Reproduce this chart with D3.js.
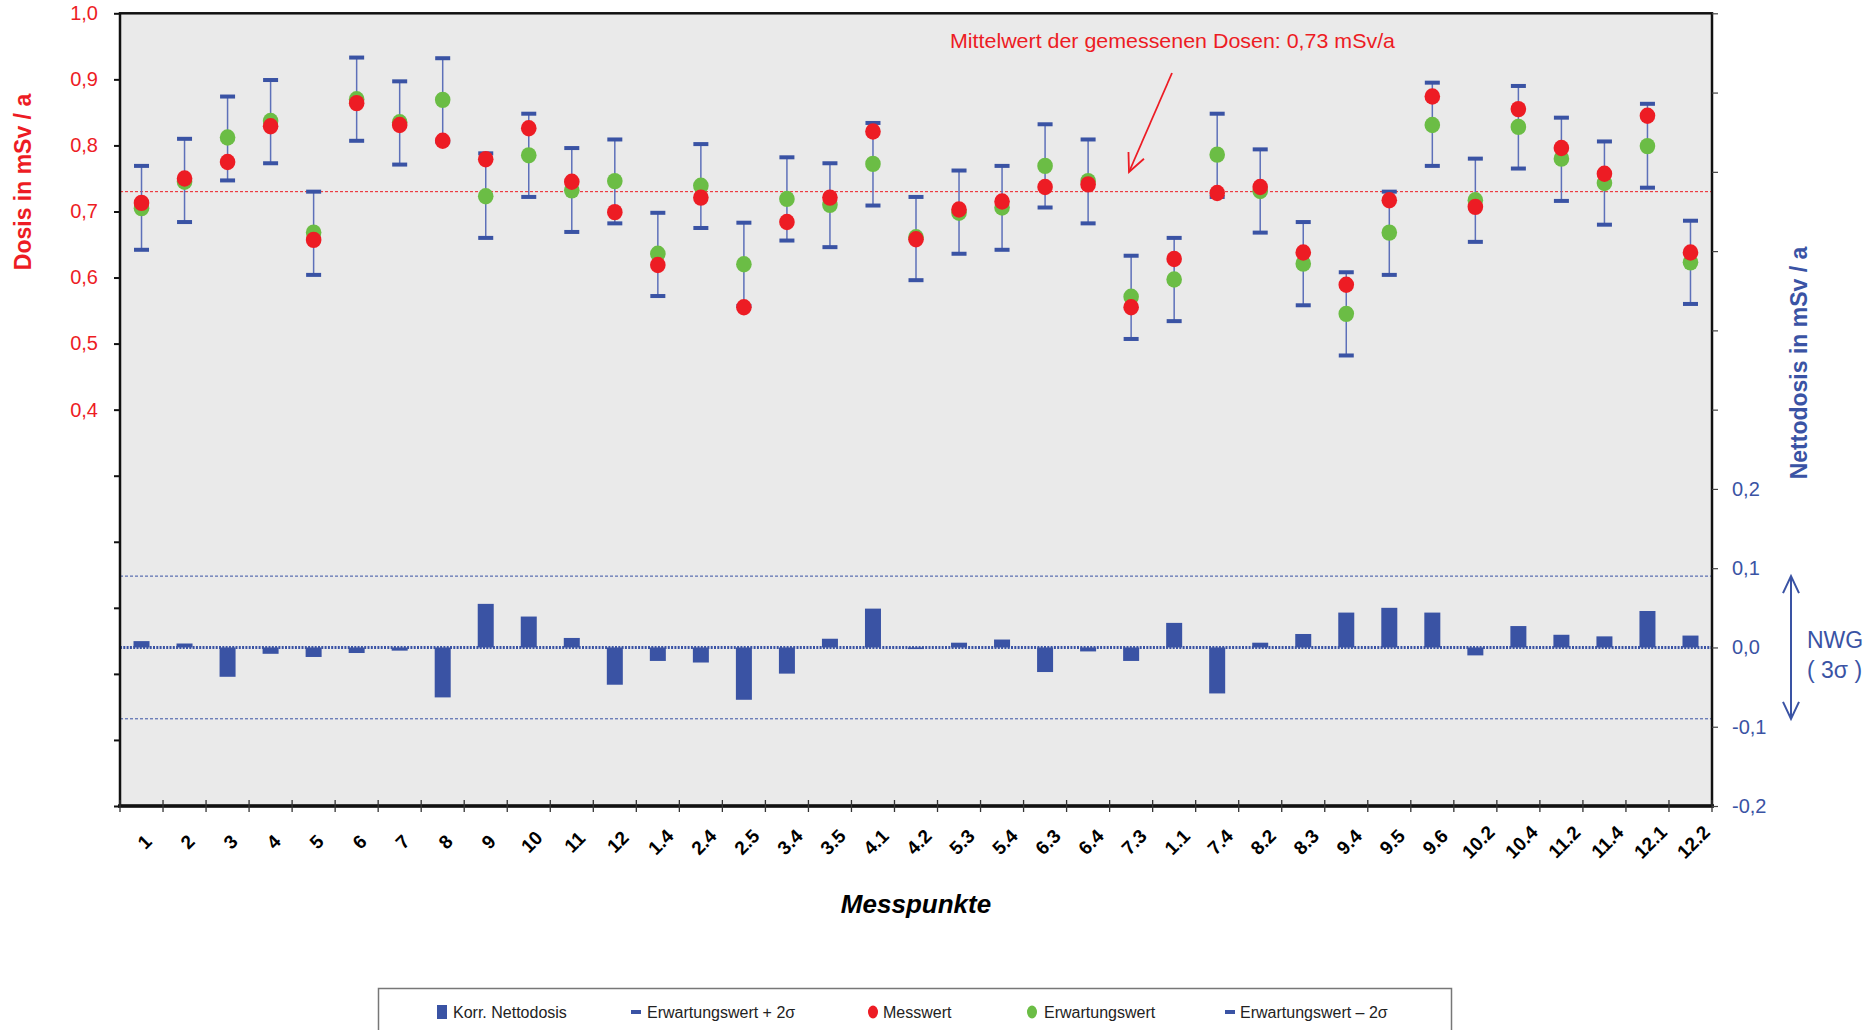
<!DOCTYPE html>
<html><head><meta charset="utf-8">
<script src="https://cdn.jsdelivr.net/npm/d3@7"></script>
<style>
html,body{margin:0;padding:0;background:#fff;}
svg{display:block;font-family:"Liberation Sans",Arial,Helvetica,sans-serif;}
</style></head>
<body>
<svg id="chart" width="1872" height="1030"></svg>
<script>
// ---------- DATA ----------
const categories = ["1","2","3","4","5","6","7","8","9","10","11","12","1.4","2.4","2.5","3.4","3.5","4.1","4.2","5.3","5.4","6.3","6.4","7.3","1.1","7.4","8.2","8.3","9.4","9.5","9.6","10.2","10.4","11.2","11.4","12.1","12.2"];
const messwert = [0.713,0.750,0.775,0.829,0.657,0.864,0.831,0.807,0.779,0.826,0.745,0.699,0.619,0.721,0.555,0.684,0.721,0.821,0.658,0.703,0.715,0.737,0.741,0.555,0.628,0.728,0.737,0.638,0.589,0.717,0.874,0.707,0.855,0.796,0.757,0.845,0.638];
const erwartungswert = [0.705,0.745,0.812,0.837,0.668,0.870,0.835,0.869,0.723,0.785,0.732,0.746,0.636,0.739,0.620,0.719,0.710,0.772,0.661,0.698,0.706,0.769,0.746,0.571,0.597,0.786,0.731,0.621,0.545,0.668,0.831,0.717,0.828,0.780,0.743,0.799,0.623];
const erwPlus2s = [0.769,0.810,0.874,0.899,0.730,0.933,0.897,0.932,0.788,0.848,0.796,0.809,0.698,0.802,0.683,0.782,0.773,0.834,0.722,0.762,0.769,0.832,0.809,0.633,0.660,0.848,0.794,0.684,0.608,0.730,0.895,0.780,0.890,0.842,0.806,0.863,0.686];
const erwMinus2s = [0.642,0.684,0.747,0.773,0.604,0.807,0.771,0.806,0.660,0.722,0.669,0.682,0.572,0.675,0.557,0.656,0.646,0.709,0.596,0.636,0.642,0.706,0.682,0.507,0.534,0.722,0.668,0.558,0.482,0.604,0.769,0.654,0.765,0.716,0.680,0.736,0.560];
const nettodosis = [0.008,0.005,-0.037,-0.008,-0.012,-0.007,-0.004,-0.063,0.055,0.039,0.012,-0.047,-0.017,-0.019,-0.066,-0.033,0.011,0.049,-0.002,0.006,0.010,-0.031,-0.005,-0.017,0.031,-0.058,0.006,0.017,0.044,0.050,0.044,-0.010,0.027,0.016,0.014,0.046,0.015];
const leftTicks = [-0.2,-0.1,0.0,0.1,0.2,0.3,0.4,0.5,0.6,0.7,0.8,0.9,1.0];
const leftTickLabels = ["","","","","","","0,4","0,5","0,6","0,7","0,8","0,9","1,0"];
const rightTicks = [-0.2,-0.1,0.0,0.1,0.2,0.3,0.4,0.5,0.6,0.7,0.8];
const rightTickLabels = ["-0,2","-0,1","0,0","0,1","0,2","","","","","",""];
const mittelwert = 0.73;
const nwg = 0.09;
const legendItems = ["Korr. Nettodosis","Erwartungswert + 2σ","Messwert","Erwartungswert","Erwartungswert – 2σ"];

// ---------- LAYOUT ----------
const RED = "#ED1C24", GREEN = "#6BBD45", BLUE = "#3A53A4", BLUE_LINE = "#5D70B9";
const L = 120, R = 1712, T = 13.3, B = 806;
const svg = d3.select("#chart");

const x = d3.scaleBand().domain(categories).range([L, R]).padding(0);
const yL = d3.scaleLinear().domain([-0.2, 1.0]).range([B, T]);
const yR = d3.scaleLinear().domain([-0.2, 0.8]).range([B, T]);
const cx = c => x(c) + x.bandwidth() / 2;

// plot background
svg.append("rect").attr("x", L).attr("y", T).attr("width", R - L).attr("height", B - T).attr("fill", "#EAEAEA");

// reference lines
svg.append("line").attr("x1", L).attr("x2", R).attr("y1", yR(nwg)).attr("y2", yR(nwg))
  .attr("stroke", BLUE).attr("stroke-width", 1).attr("stroke-dasharray", "3,2");
svg.append("line").attr("x1", L).attr("x2", R).attr("y1", yR(-nwg)).attr("y2", yR(-nwg))
  .attr("stroke", BLUE).attr("stroke-width", 1).attr("stroke-dasharray", "3,2");
svg.append("line").attr("x1", L).attr("x2", R).attr("y1", yL(mittelwert)).attr("y2", yL(mittelwert))
  .attr("stroke", RED).attr("stroke-width", 1).attr("stroke-dasharray", "3,2");

// bars (Korr. Nettodosis, right axis)
const barW = 16;
svg.append("g").selectAll("rect").data(categories).join("rect")
  .attr("x", c => cx(c) - barW / 2)
  .attr("width", barW)
  .attr("y", (c, i) => yR(Math.max(0, nettodosis[i])))
  .attr("height", (c, i) => Math.abs(yR(nettodosis[i]) - yR(0)))
  .attr("fill", BLUE);

// zero line (dotted, thick)
svg.append("line").attr("x1", L).attr("x2", R).attr("y1", yR(0)).attr("y2", yR(0))
  .attr("stroke", BLUE).attr("stroke-width", 3).attr("stroke-dasharray", "2,1.3");

// error bars
const eb = svg.append("g");
eb.selectAll("line").data(categories).join("line")
  .attr("x1", cx).attr("x2", cx)
  .attr("y1", (c, i) => yL(erwPlus2s[i])).attr("y2", (c, i) => yL(erwMinus2s[i]))
  .attr("stroke", BLUE_LINE).attr("stroke-width", 1.5);
const capW = 15, capH = 4;
eb.selectAll("rect.up").data(categories).join("rect").attr("class", "up")
  .attr("x", c => cx(c) - capW / 2).attr("y", (c, i) => yL(erwPlus2s[i]) - capH / 2)
  .attr("width", capW).attr("height", capH).attr("fill", BLUE);
eb.selectAll("rect.lo").data(categories).join("rect").attr("class", "lo")
  .attr("x", c => cx(c) - capW / 2).attr("y", (c, i) => yL(erwMinus2s[i]) - capH / 2)
  .attr("width", capW).attr("height", capH).attr("fill", BLUE);

// points
svg.append("g").selectAll("ellipse").data(categories).join("ellipse")
  .attr("cx", cx).attr("cy", (c, i) => yL(erwartungswert[i])).attr("rx", 7.8).attr("ry", 8.2).attr("fill", GREEN);
svg.append("g").selectAll("ellipse").data(categories).join("ellipse")
  .attr("cx", cx).attr("cy", (c, i) => yL(messwert[i])).attr("rx", 7.8).attr("ry", 8.2).attr("fill", RED);

// frame
svg.append("rect").attr("x", L).attr("y", T).attr("width", R - L).attr("height", B - T)
  .attr("fill", "none").attr("stroke", "#111").attr("stroke-width", 2.5);
svg.append("line").attr("x1", L - 2).attr("x2", R + 2).attr("y1", B).attr("y2", B).attr("stroke", "#111").attr("stroke-width", 3.5);

// left axis
const axL = svg.append("g").attr("transform", `translate(${L},0)`)
  .call(d3.axisLeft(yL).tickValues(leftTicks).tickSize(6).tickPadding(16)
    .tickFormat((d, i) => leftTickLabels[i]));
axL.select(".domain").remove();
axL.selectAll(".tick line").attr("stroke", "#111").attr("stroke-width", 2);
axL.selectAll(".tick text").attr("fill", RED).attr("font-size", 20).attr("font-family", "Liberation Sans, Arial, sans-serif");

// right axis
const axR = svg.append("g").attr("transform", `translate(${R},0)`)
  .call(d3.axisRight(yR).tickValues(rightTicks).tickSize(6).tickPadding(14)
    .tickFormat((d, i) => rightTickLabels[i]));
axR.select(".domain").remove();
axR.selectAll(".tick line").attr("stroke", "#444").attr("stroke-width", 1.2);
axR.selectAll(".tick text").attr("fill", BLUE).attr("font-size", 20).attr("font-family", "Liberation Sans, Arial, sans-serif");

// bottom ticks at category boundaries
const bounds = categories.map(c => x(c)).concat([x(categories[categories.length - 1]) + x.bandwidth()]);
svg.append("g").selectAll("line").data(bounds).join("line")
  .attr("x1", d => d).attr("x2", d => d).attr("y1", B - 6).attr("y2", B + 6)
  .attr("stroke", "#333").attr("stroke-width", 1.3);

// x labels
svg.append("g").selectAll("text").data(categories).join("text")
  .attr("transform", c => `translate(${cx(c) + 3},842) rotate(-45)`)
  .attr("text-anchor", "middle").attr("dominant-baseline", "central")
  .attr("font-size", 19).attr("font-weight", "bold").attr("fill", "#000")
  .text(c => c);

// axis titles
svg.append("text").attr("transform", `translate(31,182) rotate(-90)`)
  .attr("text-anchor", "middle").attr("font-size", 23).attr("font-weight", "bold").attr("fill", RED)
  .text("Dosis in mSv / a");
svg.append("text").attr("transform", `translate(1807,363) rotate(-90)`)
  .attr("text-anchor", "middle").attr("font-size", 23).attr("font-weight", "bold").attr("fill", BLUE)
  .text("Nettodosis in mSv / a");
svg.append("text").attr("x", (L + R) / 2).attr("y", 913)
  .attr("text-anchor", "middle").attr("font-size", 26).attr("font-weight", "bold").attr("font-style", "italic").attr("fill", "#000")
  .text("Messpunkte");

// annotation: mean
svg.append("text").attr("x", 950).attr("y", 48).attr("font-size", 21).attr("fill", RED)
  .attr("textLength", 445).attr("lengthAdjust", "spacingAndGlyphs")
  .text("Mittelwert der gemessenen Dosen: 0,73 mSv/a");
(function () {
  const x1 = 1172, y1 = 73, x2 = 1129, y2 = 172;
  const ang = Math.atan2(y1 - y2, x1 - x2), len = 20, spread = 25 * Math.PI / 180;
  svg.append("line").attr("x1", x1).attr("y1", y1).attr("x2", x2).attr("y2", y2).attr("stroke", RED).attr("stroke-width", 1.8);
  const p = a => [x2 + len * Math.cos(a), y2 + len * Math.sin(a)];
  const a1 = p(ang - spread), a2 = p(ang + spread);
  svg.append("path").attr("d", `M${a1[0]},${a1[1]}L${x2},${y2}L${a2[0]},${a2[1]}`)
    .attr("fill", "none").attr("stroke", RED).attr("stroke-width", 1.8);
})();

// NWG double arrow
(function () {
  const ax = 1791, yt = yR(nwg), yb = yR(-nwg);
  svg.append("line").attr("x1", ax).attr("x2", ax).attr("y1", yt).attr("y2", yb).attr("stroke", BLUE).attr("stroke-width", 2);
  svg.append("path").attr("d", `M${ax - 8},${yt + 17}L${ax},${yt}L${ax + 8},${yt + 17}`).attr("fill", "none").attr("stroke", BLUE).attr("stroke-width", 2);
  svg.append("path").attr("d", `M${ax - 8},${yb - 17}L${ax},${yb}L${ax + 8},${yb - 17}`).attr("fill", "none").attr("stroke", BLUE).attr("stroke-width", 2);
  svg.append("text").attr("x", 1807).attr("y", 648).attr("font-size", 23).attr("fill", BLUE).text("NWG");
  svg.append("text").attr("x", 1807).attr("y", 678).attr("font-size", 23).attr("fill", BLUE).text("( 3σ )");
})();

// legend
const lg = svg.append("g");
lg.append("rect").attr("x", 378.5).attr("y", 988.5).attr("width", 1073).attr("height", 60)
  .attr("fill", "#fff").attr("stroke", "#777").attr("stroke-width", 1.5);
const ly = 1012;
const lgX = [437, 631, 868, 1027, 1225];
const txtX = [453, 647, 883, 1044, 1240];
lg.append("rect").attr("x", lgX[0]).attr("y", ly - 7).attr("width", 10).attr("height", 14).attr("fill", BLUE);
lg.append("rect").attr("x", lgX[1]).attr("y", ly - 2).attr("width", 10).attr("height", 4).attr("fill", BLUE);
lg.append("ellipse").attr("cx", lgX[2] + 5).attr("cy", ly).attr("rx", 5).attr("ry", 6.5).attr("fill", RED);
lg.append("ellipse").attr("cx", lgX[3] + 5).attr("cy", ly).attr("rx", 5).attr("ry", 6.5).attr("fill", GREEN);
lg.append("rect").attr("x", lgX[4]).attr("y", ly - 2).attr("width", 10).attr("height", 4).attr("fill", BLUE);
lg.selectAll("text").data(legendItems).join("text")
  .attr("x", (d, i) => txtX[i]).attr("y", ly + 6).attr("font-size", 16).attr("fill", "#222")
  .text(d => d);
</script>
</body></html>
